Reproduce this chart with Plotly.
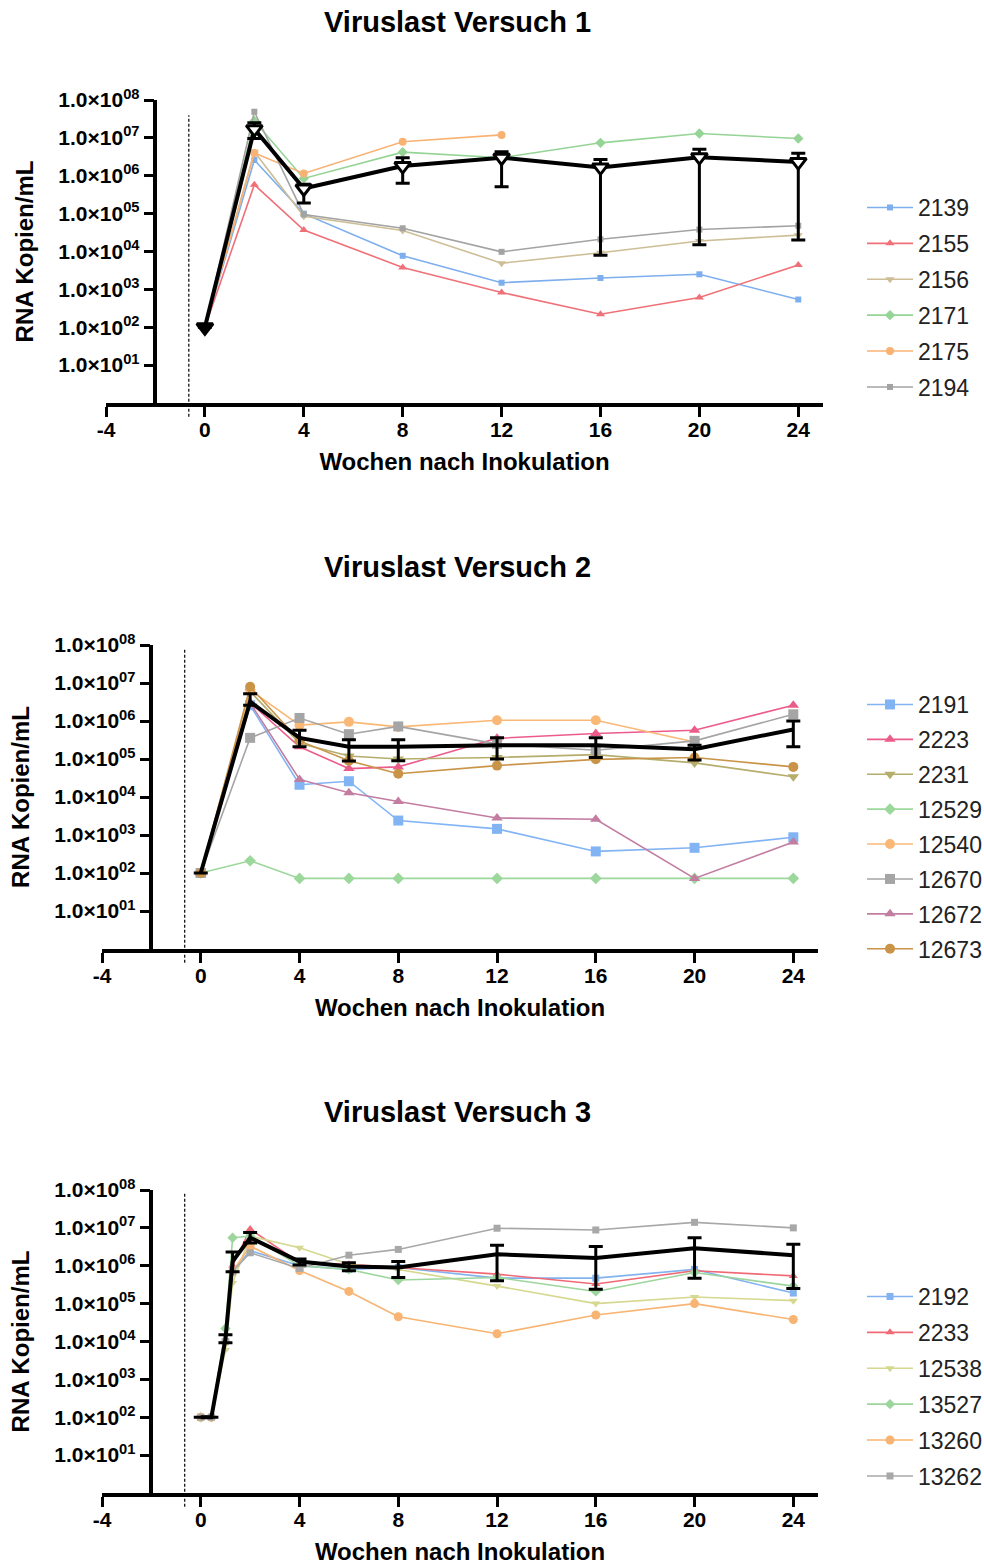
import plotly.graph_objects as go

# ---------------- data ----------------
weeks1 = [0, 2, 4, 8, 12, 16, 20, 24]
names1 = ["2139", "2155", "2156", "2171", "2175", "2194"]
v1_2139 = [100, 2.6e6, 1.0e5, 7.7e3, 1.5e3, 2.0e3, 2.5e3, 5.4e2]
v1_2155 = [100, 5.8e5, 3.7e4, 3.8e3, 8.3e2, 2.2e2, 6.1e2, 4.4e3]
v1_2156 = [100, 4.3e6, 8.5e4, 3.6e4, 4.9e3, 9.3e3, 1.9e4, 2.7e4]
v1_2171 = [100, 2.8e7, 8.5e5, 4.2e6, 3.0e6, 7.4e6, 1.3e7, 9.6e6]
v1_2175 = [100, 4.0e6, 1.15e6, 7.9e6, 1.2e7, None, None, None]
v1_2194 = [100, 4.9e7, 9.5e4, 4.1e4, 9.8e3, 2.1e4, 3.8e4, 4.8e4]
mean1 = [100, 1.7e7, 4.6e5, 1.8e6, 3.0e6, 1.66e6, 3.1e6, 2.3e6]
upper1 = [100, 2.5e7, 6.0e5, 3.0e6, 4.3e6, 2.7e6, 5.0e6, 3.9e6]
lower1 = [100, 9.6e6, 1.9e5, 6.3e5, 5.1e5, 8.0e3, 1.5e4, 2.0e4]

weeks2 = [0, 2, 4, 6, 8, 12, 16, 20, 24]
names2 = ["2191", "2223", "2231", "12529", "12540", "12670", "12672", "12673"]
v2_2191 = [100, 2.6e6, 2.1e4, 2.6e4, 2.4e3, 1.45e3, 3.7e2, 4.6e2, 8.7e2]
v2_2223 = [100, 3.0e6, 2.1e5, 5.6e4, 6.2e4, 3.5e5, 4.7e5, 5.7e5, 2.6e6]
v2_2231 = [100, 6.0e6, 2.6e5, 1.2e5, 1.0e5, 1.1e5, 1.3e5, 7.9e4, 3.4e4]
v2_12529 = [100, 2.1e2, 7.2e1, 7.2e1, 7.2e1, 7.2e1, 7.2e1, 7.2e1, 7.2e1]
v2_12540 = [100, 6.5e6, 7.8e5, 9.5e5, 7.0e5, 1.05e6, 1.05e6, 2.8e5, None]
v2_12670 = [100, 3.6e5, 1.2e6, 4.5e5, 7.2e5, 2.5e5, 1.7e5, 3.0e5, 1.5e6]
v2_12672 = [100, 3.0e6, 2.9e4, 1.3e4, 7.6e3, 2.8e3, 2.6e3, 7.2e1, 6.5e2]
v2_12673 = [100, 8.0e6, 3.0e5, 9.0e4, 4.1e4, 6.7e4, 9.8e4, 1.1e5, 6.2e4]
mean2 = [100, 3.2e6, 3.6e5, 2.1e5, 2.1e5, 2.3e5, 2.3e5, 1.8e5, 6.0e5]
upper2 = [100, 5.2e6, 5.7e5, 3.2e5, 3.2e5, 3.6e5, 3.6e5, 2.3e5, 1.0e6]
lower2 = [100, 2.6e6, 2.1e5, 8.9e4, 9.0e4, 1.0e5, 1.1e5, 9.4e4, 2.1e5]

weeks3 = [0, 0.43, 1, 1.29, 2, 4, 6, 8, 12, 16, 20, 24]
names3 = ["2192", "2233", "12538", "13527", "13260", "13262"]
v3_2192 = [100, 100, 1.0e4, 7.0e5, 2.5e6, 1.0e6, 8.0e5, 9.0e5, 4.7e5, 4.7e5, 8.0e5, 1.9e5]
v3_2233 = [100, 100, 1.0e4, 1.0e6, 9.3e6, 1.2e6, 1.1e6, 9.0e5, 6.0e5, 3.3e5, 7.4e5, 5.4e5]
v3_12538 = [100, 100, 6.0e3, 3.5e5, 6.0e6, 3.0e6, 1.1e6, 8.0e5, 2.9e5, 1.0e5, 1.5e5, 1.2e5]
v3_13527 = [100, 100, 2.2e4, 5.5e6, 6.0e6, 1.0e6, 8.0e5, 4.2e5, 4.9e5, 2.1e5, 6.6e5, 2.9e5]
v3_13260 = [100, 100, 1.0e4, 7.0e5, 3.3e6, 7.5e5, 2.1e5, 4.5e4, 1.6e4, 5.0e4, 1.0e5, 3.8e4]
v3_13262 = [100, 100, 1.0e4, 7.0e5, 2.2e6, 8.5e5, 1.9e6, 2.7e6, 9.8e6, 8.8e6, 1.4e7, 1.0e7]
mean3 = [100, 100, 1.15e4, 1.3e6, 5.5e6, 1.3e6, 9.5e5, 9.0e5, 2.0e6, 1.6e6, 2.9e6, 1.9e6]
upper3 = [100, 100, 1.5e4, 2.3e6, 7.6e6, 1.5e6, 1.2e6, 1.3e6, 3.5e6, 3.2e6, 5.5e6, 3.7e6]
lower3 = [100, 100, 9.3e3, 6.9e5, 4.0e6, 1.05e6, 7.4e5, 4.9e5, 4.0e5, 2.4e5, 4.7e5, 2.5e5]

titles = ["Viruslast Versuch 1", "Viruslast Versuch 2", "Viruslast Versuch 3"]
x_title = "Wochen nach Inokulation"
y_title = "RNA Kopien/mL"
x_ticks = [-4, 0, 4, 8, 12, 16, 20, 24]
y_tick_vals = [1e1, 1e2, 1e3, 1e4, 1e5, 1e6, 1e7, 1e8]
y_tick_text = ["1.0×10<sup>01</sup>", "1.0×10<sup>02</sup>", "1.0×10<sup>03</sup>",
               "1.0×10<sup>04</sup>", "1.0×10<sup>05</sup>", "1.0×10<sup>06</sup>",
               "1.0×10<sup>07</sup>", "1.0×10<sup>08</sup>"]

# ---------------- styles ----------------
style1 = [("#7DAEEE", "square", 6), ("#F07078", "triangle-up", 8), ("#CDBE95", "triangle-down", 8),
          ("#95D495", "diamond", 8), ("#F8B274", "circle", 8), ("#A3A3A3", "square", 6)]
style2 = [("#82B4F4", "square", 10), ("#EC5C8A", "triangle-up", 10), ("#B5AD6C", "triangle-down", 10),
          ("#9CD89C", "diamond", 9), ("#F9B876", "circle", 10), ("#A5A5A5", "square", 10),
          ("#C27DA0", "triangle-up", 10), ("#C99448", "circle", 10)]
style3 = [("#82B2F0", "square", 7), ("#F06A76", "triangle-up", 8), ("#D5D88E", "triangle-down", 8),
          ("#9CD69C", "diamond", 8), ("#F8B472", "circle", 9), ("#A8A8A8", "square", 7)]

FONT = "Liberation Sans, Arial, sans-serif"
W, H = 984, 1566
# panel pixel boxes: x-left(-4), x-right, y-top(1e8), y-bottom(1e0)
boxes = [(106, 823, 100, 403), (102, 818, 645, 949), (102, 818, 1190, 1493)]
XR = [-4, 25]
legend_tops = [186, 683, 1275]
legend_gaps = [3, 2, 3]
dash_tops = [0.95, 0.99, 0.99]

fig = go.Figure()

panels = [
    (weeks1, names1, [v1_2139, v1_2155, v1_2156, v1_2171, v1_2175, v1_2194], style1, mean1, upper1, lower1),
    (weeks2, names2, [v2_2191, v2_2223, v2_2231, v2_12529, v2_12540, v2_12670, v2_12672, v2_12673],
     style2, mean2, upper2, lower2),
    (weeks3, names3, [v3_2192, v3_2233, v3_12538, v3_13527, v3_13260, v3_13262], style3, mean3, upper3, lower3),
]

layout_upd = {}
annotations = []
shapes = []
for i, (wk, names, series, styles, mean, up, lo) in enumerate(panels):
    k = i + 1
    xa = "x" if k == 1 else f"x{k}"
    ya = "y" if k == 1 else f"y{k}"
    lg = "legend" if k == 1 else f"legend{k}"
    for name, vals, (col, sym, sz) in zip(names, series, styles):
        fig.add_trace(go.Scatter(
            x=wk, y=vals, name=name, mode="lines+markers",
            line=dict(color=col, width=1.6),
            marker=dict(color=col, symbol=sym, size=sz, line=dict(width=0)),
            xaxis=xa, yaxis=ya, legend=lg, legendgroup=f"g{k}_{name}",
            connectgaps=False,
        ))
    err_p = [u - m for u, m in zip(up, mean)]
    err_m = [m - l for m, l in zip(mean, lo)]
    if k == 1:
        fills = ["black"] + ["white"] * (len(wk) - 1)
        mk = dict(symbol="triangle-down", size=14, color=fills, line=dict(color="black", width=3))
        mode = "lines+markers"
    else:
        mk = dict(size=4, color="black")
        mode = "lines"
    fig.add_trace(go.Scatter(
        x=wk, y=mean, mode=mode, showlegend=False, name="Mittelwert",
        line=dict(color="black", width=4), marker=mk,
        error_y=dict(type="data", symmetric=False, array=err_p, arrayminus=err_m,
                     color="black", thickness=3, width=7),
        xaxis=xa, yaxis=ya,
    ))

    x0, x1, yt, yb = boxes[i]
    dom_x = [x0 / W, x1 / W]
    dom_y = [1 - yb / H, 1 - yt / H]
    ypos = (x0 + (2 / (XR[1] - XR[0])) * (x1 - x0)) / W
    xkey = "xaxis" if k == 1 else f"xaxis{k}"
    ykey = "yaxis" if k == 1 else f"yaxis{k}"
    layout_upd[xkey] = dict(
        domain=dom_x, range=XR, anchor=ya, tickmode="array", tickvals=x_ticks,
        ticktext=[str(t) for t in x_ticks], automargin=False, ticklabelstandoff=-5,
        showline=True, linecolor="black", linewidth=3.5, ticks="outside", ticklen=10,
        tickwidth=3, tickcolor="black", showgrid=False, zeroline=False,
        tickfont=dict(family=FONT, size=21, color="black", weight="bold"),
        title=dict(text=x_title, font=dict(family=FONT, size=24, color="black", weight="bold"), standoff=14),
    )
    layout_upd[ykey] = dict(
        domain=dom_y, type="log", range=[0, 8], anchor="free", position=ypos,
        tickmode="array", tickvals=y_tick_vals, ticktext=y_tick_text, automargin=False,
        showline=True, linecolor="black", linewidth=3.5, ticks="outside", ticklen=10,
        tickwidth=3, tickcolor="black", showgrid=False, zeroline=False,
        tickfont=dict(family=FONT, size=21, color="black", weight="bold"),
        title=dict(text=y_title, font=dict(family=FONT, size=24, color="black", weight="bold"), standoff=17),
    )
    lt = legend_tops[i]
    layout_upd[lg] = dict(
        x=862 / W, y=1 - lt / H, xanchor="left", yanchor="top",
        font=dict(family=FONT, size=23, color="#222222"),
        bgcolor="rgba(0,0,0,0)", itemwidth=46, tracegroupgap=legend_gaps[i],
        traceorder="grouped",
    )
    annotations.append(dict(
        text=f"<b>{titles[i]}</b>", x=457 / W, y=1 - (yt - 78) / H, xref="paper", yref="paper",
        xanchor="center", yanchor="middle", showarrow=False,
        font=dict(family=FONT, size=29, color="black"),
    ))
    xd = xa + " domain"
    yd = ya + " domain"
    shapes.append(dict(
        type="line", xref=xd, yref=yd,
        x0=(-0.65 - XR[0]) / (XR[1] - XR[0]), x1=(-0.65 - XR[0]) / (XR[1] - XR[0]),
        y0=-0.045, y1=dash_tops[i], line=dict(color="black", width=1.2, dash="3px,2px"), layer="below",
    ))

fig.update_layout(
    width=W, height=H, margin=dict(l=0, r=0, t=0, b=0, autoexpand=False),
    paper_bgcolor="white", plot_bgcolor="white",
    annotations=annotations, shapes=shapes, **layout_upd,
)

fig.write_html("out.html")
